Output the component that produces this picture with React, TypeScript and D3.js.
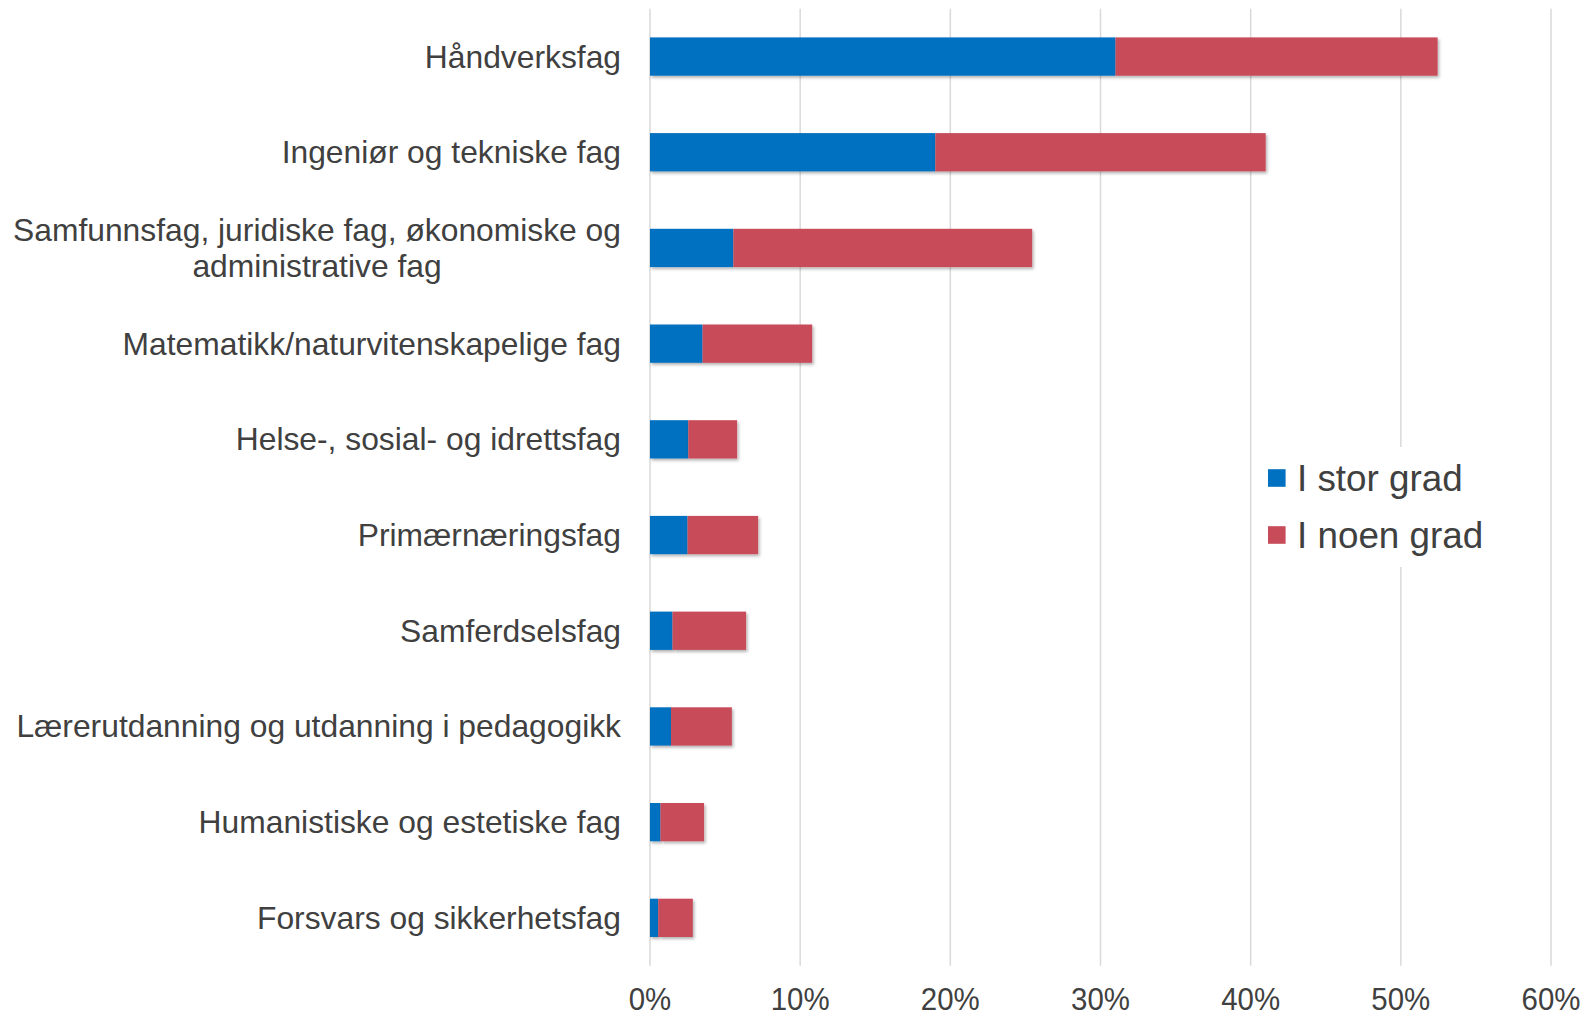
import { useMemo } from "react";
import * as d3 from "d3";

// categories top to bottom; "\n" marks a wrapped label
const categories = [
  "Håndverksfag",
  "Ingeniør og tekniske fag",
  "Samfunnsfag, juridiske fag, økonomiske og\nadministrative fag",
  "Matematikk/naturvitenskapelige fag",
  "Helse-, sosial- og idrettsfag",
  "Primærnæringsfag",
  "Samferdselsfag",
  "Lærerutdanning og utdanning i pedagogikk",
  "Humanistiske og estetiske fag",
  "Forsvars og sikkerhetsfag",
];
// percent
const storGrad = [31.0, 19.0, 5.55, 3.5, 2.55, 2.5, 1.5, 1.4, 0.7, 0.55];
const noenGrad = [21.45, 22.0, 19.9, 7.3, 3.25, 4.7, 4.9, 4.05, 2.9, 2.3];
const seriesNames = ["I stor grad", "I noen grad"];
const seriesColors = ["#0070C0", "#C84B5A"];
const xTicks = [0, 10, 20, 30, 40, 50, 60];

const FONT = "'Liberation Sans', Arial, Helvetica, sans-serif";
const TEXT = "#404040";
const LABEL_SIZE = 31.8;

// width of a text line, used to centre wrapped labels in their block
const measure = (() => {
  const ctx = document.createElement("canvas").getContext("2d")!;
  ctx.font = `${LABEL_SIZE}px ${FONT}`;
  return (s: string) => ctx.measureText(s).width;
})();

const App = () => {
  const width = 1585,
    height = 1018;
  const MARGIN = { top: 8.7, right: 34, bottom: 52.3, left: 650 };
  const labelRight = MARGIN.left - 29;

  const rows = categories.map((c, i) => ({
    cat: c,
    stor: storGrad[i],
    noen: noenGrad[i],
  }));

  const stacked = useMemo(
    () => d3.stack<any>().keys(["stor", "noen"])(rows),
    []
  );

  const xScale = d3
    .scaleLinear()
    .domain([0, 60])
    .range([MARGIN.left, width - MARGIN.right]);

  const yScale = d3
    .scaleBand()
    .domain(categories)
    .range([MARGIN.top, height - MARGIN.bottom])
    .paddingInner(0.6)
    .paddingOuter(0.3);

  const gridBottom = height - MARGIN.bottom;

  return (
    <svg
      width={width}
      height={height}
      style={{ position: "absolute", left: 0, top: 0, background: "#fff" }}
      fontFamily={FONT}
    >
      <defs>
        <filter id="shadow" x="-5%" y="-20%" width="115%" height="160%">
          <feDropShadow dx="1.5" dy="2" stdDeviation="1.5" floodColor="#000" floodOpacity="0.3" />
        </filter>
      </defs>

      {/* grid */}
      {xTicks.map((t) => (
        <line
          key={t}
          x1={xScale(t)}
          x2={xScale(t)}
          y1={MARGIN.top}
          y2={gridBottom}
          stroke="#d9d9d9"
          strokeWidth={1.5}
        />
      ))}

      {/* tick labels */}
      {xTicks.map((t) => (
        <text
          key={t}
          transform={`translate(${xScale(t)},${1010}) scale(0.95,1)`}
          textAnchor="middle"
          fontSize={31}
          fill={TEXT}
        >
          {t}%
        </text>
      ))}

      {/* bars */}
      {stacked.map((s, si) => (
        <g key={s.key} fill={seriesColors[si]}>
          {s.map((d, i) => (
            <rect
              key={i}
              x={xScale(d[0])}
              y={yScale(categories[i])}
              width={xScale(d[1]) - xScale(d[0])}
              height={yScale.bandwidth()}
              filter="url(#shadow)"
            />
          ))}
        </g>
      ))}

      {/* category labels */}
      {categories.map((c) => {
        const lines = c.split("\n");
        const cy = yScale(c)! + yScale.bandwidth() / 2;
        const lh = 36.4;
        const y0 = cy - ((lines.length - 1) * lh) / 2;
        const blockW = Math.max(...lines.map(measure));
        const cx = labelRight - blockW / 2;
        return (
          <g key={c} fontSize={LABEL_SIZE} fill={TEXT}>
            {lines.map((l, j) => (
              <text
                key={j}
                x={lines.length > 1 ? cx : labelRight}
                y={y0 + j * lh}
                textAnchor={lines.length > 1 ? "middle" : "end"}
                dominantBaseline="central"
              >
                {l}
              </text>
            ))}
          </g>
        );
      })}

      {/* legend */}
      <rect x={1258} y={447} width={232} height={120} fill="#fff" />
      {seriesNames.map((n, i) => (
        <g key={n} transform={`translate(1268,${478 + i * 57})`}>
          <rect x={0} y={-8.8} width={17.6} height={17.6} fill={seriesColors[i]} />
          <text x={29} y={0} dominantBaseline="central" fontSize={36.8} fill={TEXT}>
            {n}
          </text>
        </g>
      ))}
    </svg>
  );
};

export default App;
